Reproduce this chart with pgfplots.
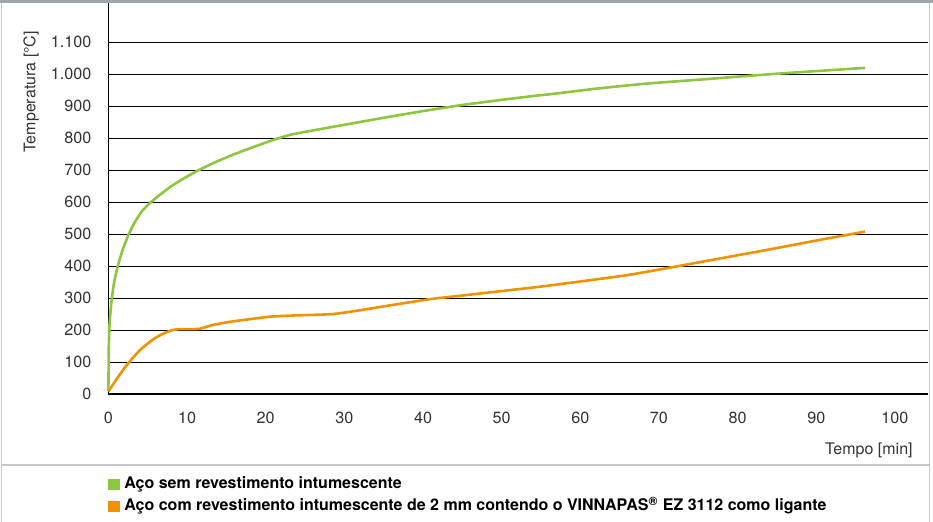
\documentclass[border=0pt]{standalone}
\usepackage{pgfplots}
\pgfplotsset{compat=1.18}
\usepackage{fontspec}
\setmainfont{TeX Gyre Heros}
\definecolor{cgreen}{RGB}{141,198,63}
\definecolor{corange}{RGB}{243,146,0}
\definecolor{topgray}{RGB}{160,165,170}
\definecolor{framegray}{RGB}{198,200,202}
\definecolor{txt}{RGB}{51,51,51}
\begin{document}
\begin{tikzpicture}
\begin{axis}[
  at={(54.2pt,-197pt)}, anchor=south west,
  scale only axis, width=409.8pt, height=195.5pt,
  xmin=0, xmax=104.2, ymin=0, ymax=1223,
  axis x line*=bottom, axis y line*=left,
  axis line style={-, black, line width=0.6pt},
  xtick={0,10,...,100}, ytick={0,100,...,1100},
  ymajorgrids, major grid style={black, line width=0.5pt},
  major tick length=0pt, tick style={draw=none},
  /pgf/number format/assume math mode=true,
  /pgf/number format/1000 sep={.},
  ticklabel style={font=\fontsize{8.1}{9.7}\selectfont, text=txt, inner sep=0pt},
  yticklabel style={xshift=-8.35pt},
  xticklabel style={yshift=-9pt},
  clip=false,
]
\addplot[cgreen, line width=1.3pt, line join=round, smooth, tension=0.25] coordinates {
(0,10) (0.05,150) (0.15,220) (0.35,280) (0.6,330) (0.9,370) (1.3,410) (1.8,450)
(2.5,495) (3.3,535) (4.2,570) (5.3,598) (6.5,622) (8,650) (9.5,673) (11.3,698)
(13.5,724) (16,750) (18.5,773) (21,795) (23,810) (25,820) (30,842) (35,864)
(40,885) (45,904) (50,920) (54,932) (57,940) (62,955) (68,970) (75,983)
(84,1000) (90,1010) (96.2,1020)
};
\addplot[corange, line width=1.3pt, line join=round, smooth, tension=0.4] coordinates {
(0,8) (1,45) (2,80) (3,110) (4,137) (5,158) (6,176) (7,189) (8,199) (9,203)
(10,203) (11.6,204) (13.3,216) (15.5,226) (18,234) (20.6,242) (24,246)
(28.5,250) (32,262) (36,278) (41,297) (45,308) (50,322) (55,336) (60,352)
(66,372) (72,398) (78,425) (84,452) (90,480) (96.2,508)
};
\end{axis}
\begin{scope}[x=0.5pt,y=-0.5pt]
\fill[topgray] (0,0) rectangle (933,3);
\draw[framegray, line width=0.8pt] (1.5,3) -- (1.5,522);
\draw[framegray, line width=0.8pt] (929.5,3) -- (929.5,522);
\draw[framegray, line width=1pt] (1.5,465) -- (929.5,465);
\node[rotate=90, anchor=north east, inner sep=0pt, text=txt, font=\fontsize{8}{9.6}\selectfont] at (23,30.7) {Temperatura [°C]};
\node[anchor=base east, inner sep=0pt, text=txt, font=\fontsize{8}{9.6}\selectfont] at (913,455) {Tempo [min]};
\fill[cgreen] (108,479) rectangle (119.5,490.5);
\fill[corange] (108,501) rectangle (119.5,512.5);
\node[anchor=base west, inner sep=0pt, font=\bfseries\fontsize{8}{9.6}\selectfont] at (124,489) {Aço sem revestimento intumescente};
\node[anchor=base west, inner sep=0pt, font=\bfseries\fontsize{8}{9.6}\selectfont] at (124,511) {Aço com revestimento intumescente de 2 mm contendo o VINNAPAS\textsuperscript{®} EZ 3112 como ligante};
\pgfresetboundingbox
\path (0,0) rectangle (933,522);
\end{scope}
\end{tikzpicture}
\end{document}
